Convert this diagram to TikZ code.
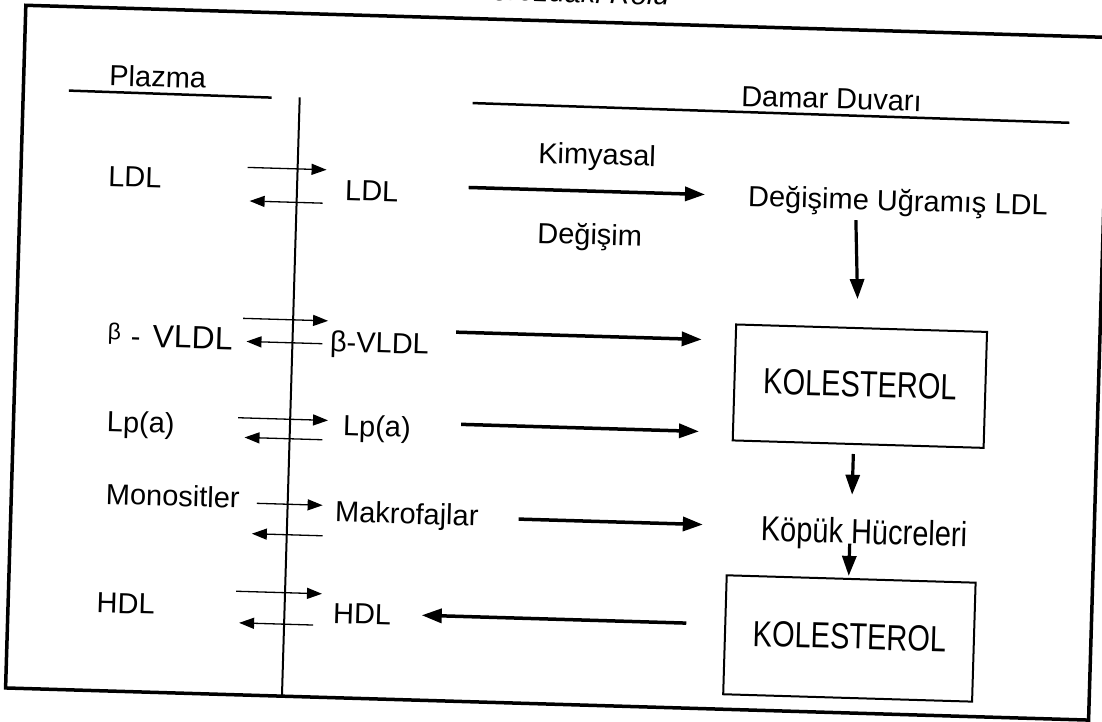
\documentclass[tikz,border=0pt]{standalone}
\usepackage{fontspec}
\setmainfont{Liberation Sans}
\usetikzlibrary{arrows.meta}

\begin{document}
\begin{tikzpicture}[x=1pt, y=-1pt,
  lbl/.style={font=\fontsize{29}{34}\selectfont, inner sep=0pt, text height=21pt, text depth=0pt},
  kbox/.style={lbl, draw, line width=2pt, minimum width=251pt, minimum height=116pt},
  smallar/.style={-{Triangle[length=15pt, width=11pt]}, line width=1.3pt},
  bigar/.style={-{Triangle[length=20pt, width=14pt]}, line width=3.5pt},
  downar/.style={-{Triangle[length=20pt, width=14pt]}, line width=3.2pt}]
\useasboundingbox (0,0) rectangle (1102,722);
\clip (0,0) rectangle (1102,722);
\fill[white] (0,0) rectangle (1102,722);
\begin{scope}[rotate around={-1.7:(551,361)}, transform shape]
% frame, divider and headings
\draw[line width=3.5pt] (15.5,21) rectangle (1099,704);
\draw[line width=2pt] (292,105) -- (292,704);
\draw[line width=2.5pt] (61,105) -- (264,106);
\draw[line width=2.5pt] (465,105.5) -- (1062,107.5);
\node[lbl, font=\fontsize{29}{34}\selectfont\itshape, anchor=base east] (baslik) at (659,2) {Aterosklerozdaki Rolü};
\node[lbl] (plazma) at (149.5,88.3) {Plazma};
\node[lbl] (damar) at (823.6,90) {Damar Duvarı};
% plasma side
\node[lbl, anchor=east] (pLDL) at (156.5,189) {LDL};
\node[lbl, anchor=east] (pVLDL) at (232.3,348.5) {\raisebox{6pt}{\fontsize{23}{25}\selectfont β}\hspace{10pt}-\hspace{12pt}{\fontsize{32}{36}\selectfont VLDL}};
\node[lbl, anchor=east] (pLpa) at (176.9,434.3) {Lp(a)};
\node[lbl, anchor=east] (pMono) at (244.1,506.8) {Monositler};
\node[lbl, anchor=east] (pHDL) at (162.3,615.4) {HDL};
% vessel wall side
\node[lbl, anchor=west] (wLDL) at (340,196) {LDL};
\node[lbl, anchor=west] (wVLDL) at (329.4,347.6) {β-VLDL};
\node[lbl, anchor=west] (wLpa) at (344.9,431.2) {Lp(a)};
\node[lbl, anchor=west] (wMakro) at (339.5,517.5) {Makrofajlar};
\node[lbl, anchor=west] (wHDL) at (340.5,619) {HDL};
\node[lbl, anchor=west] (dLDL) at (743,190) {Değişime Uğramış LDL};
\node[lbl] (kimya) at (591,153) {Kimyasal};
\node[lbl] (degis) at (586,233) {Değişim};
\node[kbox] (kol1) at (860.5,377) {\scalebox{1}[1.25]{KOLESTEROL}};
\node[lbl] (kopuk) at (869,524) {\scalebox{1}[1.2]{Köpük Hücreleri}};
\node[kbox, minimum width=249pt, minimum height=119pt] (kol2) at (857.5,629.5) {\scalebox{1}[1.25]{KOLESTEROL}};
% exchange across the wall
\draw[smallar, shorten <=85.5pt, shorten >=19pt] ([yshift=12.5pt]pLDL.east) -- ([yshift=19.5pt]wLDL.west);
\draw[smallar, shorten <=22pt, shorten >=88.5pt] ([yshift=-14pt]wLDL.west) -- ([yshift=-21pt]pLDL.east);
\draw[smallar, shorten <=9.7pt, shorten >=2.4pt] ([yshift=21pt]pVLDL.east) -- ([yshift=20.1pt]wVLDL.west);
\draw[smallar, shorten <=7.4pt, shorten >=13.7pt] ([yshift=-2.9pt]wVLDL.west) -- ([yshift=-2pt]pVLDL.east);
\draw[smallar, shorten <=63pt, shorten >=15pt] ([yshift=7.3pt]pLpa.east) -- ([yshift=4.2pt]wLpa.west);
\draw[smallar, shorten <=20pt, shorten >=70pt] ([yshift=-15.3pt]wLpa.west) -- ([yshift=-12.2pt]pLpa.east);
\draw[smallar, shorten <=17pt, shorten >=12.5pt] ([yshift=-5.2pt]pMono.east) -- ([yshift=5.5pt]wMakro.west);
\draw[smallar, shorten <=11.5pt, shorten >=13pt] ([yshift=-25pt]wMakro.west) -- ([yshift=-35.7pt]pMono.east);
\draw[smallar, shorten <=80.7pt, shorten >=11.5pt] ([yshift=14.9pt]pHDL.east) -- ([yshift=18.5pt]wHDL.west);
\draw[smallar, shorten <=19.5pt, shorten >=84.7pt] ([yshift=-13pt]wHDL.west) -- ([yshift=-16.6pt]pHDL.east);
% inside the wall
\draw[bigar, shorten <=70pt, shorten >=43pt] ([yshift=6pt]wLDL.east) -- (dLDL.west);
\draw[bigar, shorten <=26.6pt, shorten >=33pt] ([yshift=12.6pt]wVLDL.east) -- ([yshift=42pt]kol1.west);
\draw[bigar, shorten <=50pt, shorten >=33pt] ([yshift=4.2pt]wLpa.east) -- ([yshift=-50pt]kol1.west);
\draw[bigar, shorten <=40pt, shorten >=58pt] ([yshift=-2.5pt]wMakro.east) -- ([yshift=4pt]kopuk.west);
\draw[bigar, shorten <=38pt, shorten >=30.4pt] ([yshift=10.5pt]kol2.west) -- (wHDL.east);
\draw[downar, shorten <=10.5pt, shorten >=28pt] ([xshift=-42pt]dLDL.south) -- ([xshift=-3.5pt]kol1.north);
\draw[downar, shorten <=9pt, shorten >=27.5pt] ([xshift=-4.5pt]kol1.south) -- ([xshift=-13pt]kopuk.north);
\draw[downar, shorten >=2pt] ([xshift=-14pt]kopuk.south) -- ([xshift=-2.5pt]kol2.north);
\end{scope}
\end{tikzpicture}
\end{document}
